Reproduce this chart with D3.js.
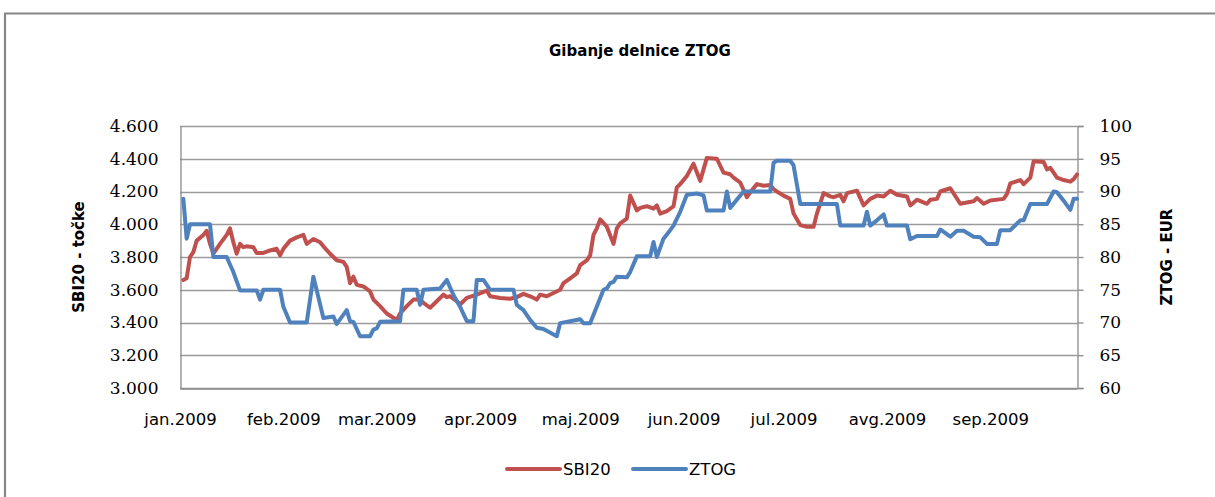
<!DOCTYPE html>
<html>
<head>
<meta charset="utf-8">
<script src="https://cdn.jsdelivr.net/npm/d3@7"></script>
<style>
  body { margin: 0; background: #fff; }
  svg { display: block; }
</style>
</head>
<body>
<div id="chart"></div>
<script>
// SBI20 index (left axis, points)
let sbiDates = ["2009-01-02","2009-01-03","2009-01-04","2009-01-05","2009-01-06","2009-01-08","2009-01-09","2009-01-10","2009-01-11","2009-01-13",
  "2009-01-15","2009-01-16","2009-01-17","2009-01-18","2009-01-19","2009-01-20","2009-01-21","2009-01-23","2009-01-24","2009-01-26",
  "2009-01-28","2009-01-30","2009-01-31","2009-02-01","2009-02-03","2009-02-05","2009-02-07","2009-02-08","2009-02-10","2009-02-12",
  "2009-02-13","2009-02-15","2009-02-16","2009-02-17","2009-02-19","2009-02-20","2009-02-21","2009-02-22","2009-02-23","2009-02-25",
  "2009-02-27","2009-02-28","2009-03-02","2009-03-04","2009-03-07","2009-03-08","2009-03-10","2009-03-12","2009-03-14","2009-03-15",
  "2009-03-17","2009-03-19","2009-03-21","2009-03-22","2009-03-23","2009-03-25","2009-03-26","2009-03-28","2009-03-31","2009-04-03",
  "2009-04-04","2009-04-07","2009-04-10","2009-04-12","2009-04-14","2009-04-16","2009-04-18","2009-04-19","2009-04-21","2009-04-23",
  "2009-04-25","2009-04-26","2009-04-28","2009-04-30","2009-05-01","2009-05-03","2009-05-04","2009-05-05","2009-05-06","2009-05-07",
  "2009-05-09","2009-05-11","2009-05-12","2009-05-13","2009-05-15","2009-05-16","2009-05-18","2009-05-19","2009-05-21","2009-05-23",
  "2009-05-24","2009-05-25","2009-05-27","2009-05-29","2009-05-30","2009-05-31","2009-06-02","2009-06-04","2009-06-06","2009-06-08",
  "2009-06-11","2009-06-13","2009-06-15","2009-06-16","2009-06-18","2009-06-20","2009-06-21","2009-06-23","2009-06-25","2009-06-27",
  "2009-06-28","2009-06-29","2009-07-01","2009-07-03","2009-07-04","2009-07-06","2009-07-08","2009-07-10","2009-07-11","2009-07-13",
  "2009-07-15","2009-07-16","2009-07-18","2009-07-19","2009-07-20","2009-07-23","2009-07-25","2009-07-27","2009-07-29","2009-07-31",
  "2009-08-02","2009-08-04","2009-08-07","2009-08-08","2009-08-10","2009-08-13","2009-08-14","2009-08-16","2009-08-17","2009-08-20",
  "2009-08-23","2009-08-27","2009-08-28","2009-08-30","2009-09-01","2009-09-05","2009-09-06","2009-09-07","2009-09-10","2009-09-11",
  "2009-09-13","2009-09-14","2009-09-17","2009-09-18","2009-09-19","2009-09-21","2009-09-23","2009-09-25","2009-09-26","2009-09-27"];
let sbiValues = [3660,3670,3800,3830,3900,3935,3960,3880,3820,3880,
  3935,3975,3890,3820,3880,3860,3865,3860,3825,3825,
  3840,3850,3810,3850,3900,3920,3935,3880,3910,3890,
  3865,3820,3800,3780,3770,3740,3640,3680,3630,3620,
  3590,3540,3500,3455,3415,3455,3500,3540,3540,3520,
  3490,3530,3570,3555,3560,3530,3510,3550,3570,3595,
  3560,3550,3545,3555,3575,3560,3540,3570,3560,3580,
  3600,3640,3670,3700,3750,3780,3810,3935,3975,4030,
  3985,3880,3975,4005,4035,4175,4085,4100,4110,4095,
  4115,4065,4080,4110,4225,4245,4295,4370,4265,4405,
  4400,4315,4305,4285,4255,4165,4195,4245,4235,4240,
  4215,4200,4175,4155,4065,3995,3985,3985,4065,4190,
  4170,4165,4180,4140,4190,4205,4115,4155,4175,4170,
  4205,4180,4170,4115,4150,4125,4150,4155,4200,4220,
  4125,4140,4160,4125,4145,4155,4185,4250,4270,4245,
  4285,4385,4380,4335,4345,4285,4270,4260,4275,4305];

// ZTOG share price (right axis, EUR)
let ztogDates = ["2009-01-02","2009-01-03","2009-01-04","2009-01-10","2009-01-11","2009-01-15","2009-01-17","2009-01-19","2009-01-24","2009-01-25",
  "2009-01-26","2009-01-31","2009-02-01","2009-02-03","2009-02-08","2009-02-10","2009-02-13","2009-02-16","2009-02-17","2009-02-20",
  "2009-02-21","2009-02-22","2009-02-24","2009-02-27","2009-02-28","2009-03-01","2009-03-02","2009-03-08","2009-03-09","2009-03-13",
  "2009-03-14","2009-03-15","2009-03-20","2009-03-22","2009-03-24","2009-03-26","2009-03-28","2009-03-30","2009-03-31","2009-04-02",
  "2009-04-04","2009-04-11","2009-04-12","2009-04-14","2009-04-16","2009-04-18","2009-04-20","2009-04-24","2009-04-25","2009-04-28",
  "2009-05-01","2009-05-02","2009-05-04","2009-05-08","2009-05-09","2009-05-10","2009-05-11","2009-05-12","2009-05-15","2009-05-16",
  "2009-05-18","2009-05-22","2009-05-23","2009-05-24","2009-05-26","2009-05-28","2009-05-29","2009-05-31","2009-06-02","2009-06-05",
  "2009-06-07","2009-06-08","2009-06-13","2009-06-14","2009-06-15","2009-06-19","2009-06-27","2009-06-28","2009-06-29","2009-07-03",
  "2009-07-04","2009-07-06","2009-07-17","2009-07-18","2009-07-25","2009-07-26","2009-07-27","2009-07-29","2009-07-31","2009-08-01",
  "2009-08-07","2009-08-08","2009-08-10","2009-08-16","2009-08-17","2009-08-20","2009-08-22","2009-08-24","2009-08-27","2009-08-29",
  "2009-08-31","2009-09-03","2009-09-04","2009-09-07","2009-09-10","2009-09-11","2009-09-13","2009-09-18","2009-09-20","2009-09-21",
  "2009-09-23","2009-09-25","2009-09-26","2009-09-27"];
let ztogValues = [88.9,82.8,85.0,85.0,80.0,80.0,77.7,74.9,74.9,73.5,
  75.0,75.0,72.4,70.0,70.0,77.0,70.7,70.9,69.8,71.9,
  70.2,70.1,67.9,67.9,68.9,69.1,70.1,70.2,75.0,75.0,
  72.7,75.0,75.2,76.5,74.2,72.4,70.2,70.2,76.5,76.5,
  75.0,75.0,72.7,71.9,70.4,69.2,69.0,67.9,69.9,70.2,
  70.5,69.9,69.9,75.0,75.2,76.0,76.2,77.0,76.9,77.7,
  80.1,80.1,82.3,80.0,82.8,84.1,84.8,86.9,89.5,89.7,
  89.4,87.1,87.1,90.0,87.5,90.0,90.0,94.4,94.7,94.7,
  94.0,88.1,88.1,84.8,84.8,86.9,84.8,85.6,86.5,84.8,
  84.8,82.7,83.2,83.2,84.2,83.1,84.0,84.0,83.1,83.0,
  82.0,82.0,84.1,84.1,85.6,85.6,88.1,88.1,90.0,89.9,
  88.6,87.2,88.9,88.9];

let monthLabels = ["jan.2009","feb.2009","mar.2009","apr.2009","maj.2009","jun.2009","jul.2009","avg.2009","sep.2009"];
let leftTicks = [3000,3200,3400,3600,3800,4000,4200,4400,4600];
let rightTicks = [60,65,70,75,80,85,90,95,100];
let seriesNames = ["SBI20","ZTOG"];
let seriesColors = ["#C0504D","#4F81BD"];

function draw_chart() {
    let svgWidth = 1215, svgHeight = 497;
    let plot = {left: 180, right: 1077, top: 126, bottom: 388};

    let svg = d3.select('#chart').append('svg')
        .attr('width', svgWidth)
        .attr('height', svgHeight);

    // outer frame (only top and left edges show in the window)
    svg.append('path')
        .attr('d', `M5,${svgHeight + 5} L5,13.5 L${svgWidth + 5},13.5`)
        .attr('fill', 'none')
        .attr('stroke', '#868686')
        .attr('stroke-width', 2.2);

    let parse = d3.timeParse('%Y-%m-%d');
    let x = d3.scaleTime()
        .domain([new Date(2009, 0, 1), new Date(2009, 8, 27)])
        .range([plot.left, plot.right]);
    let yL = d3.scaleLinear().domain([3000, 4600]).range([plot.bottom, plot.top]);
    let yR = d3.scaleLinear().domain([60, 100]).range([plot.bottom, plot.top]);

    let sl = d3.formatLocale({decimal: ',', thousands: '.', grouping: [3], currency: ['', '']});
    let fmtLeft = sl.format(',');

    // gridlines
    svg.append('g')
        .selectAll('line')
        .data(leftTicks)
        .enter()
        .append('line')
        .attr('x1', plot.left)
        .attr('x2', plot.right)
        .attr('y1', d => Math.round(yL(d)) + 0.5)
        .attr('y2', d => Math.round(yL(d)) + 0.5)
        .attr('stroke', '#9a9a9a')
        .attr('stroke-width', 1.3);

    // left axis
    let axisL = d3.axisLeft(yL).tickValues(leftTicks).tickSize(0).tickPadding(22).tickFormat(fmtLeft);
    let gL = svg.append('g')
        .attr('transform', `translate(${plot.left + 0.5},0)`)
        .call(axisL);
    gL.select('.domain').attr('stroke', '#8a8a8a').attr('stroke-width', 1.3);
    gL.selectAll('text')
        .attr('font-family', 'DejaVu Serif')
        .attr('font-size', '17px')
        .attr('fill', '#000');

    // right axis
    let axisR = d3.axisRight(yR).tickValues(rightTicks).tickSizeOuter(6).tickSizeInner(6).tickPadding(16);
    let gR = svg.append('g')
        .attr('transform', `translate(${plot.right + 0.5},0)`)
        .call(axisR);
    gR.select('.domain').attr('stroke', '#8a8a8a').attr('stroke-width', 1.3);
    gR.selectAll('.tick line').attr('stroke', '#8a8a8a').attr('stroke-width', 1.3);
    gR.selectAll('text')
        .attr('font-family', 'DejaVu Serif')
        .attr('font-size', '17px')
        .attr('fill', '#000');

    // bottom axis
    let monthTicks = d3.range(monthLabels.length).map(i => new Date(2009, i, 1));
    let axisB = d3.axisBottom(x).tickValues(monthTicks).tickSize(0).tickPadding(25)
        .tickFormat((d, i) => monthLabels[i]);
    let gB = svg.append('g')
        .attr('transform', `translate(0,${plot.bottom + 0.5})`)
        .call(axisB);
    gB.select('.domain').attr('stroke', '#8a8a8a').attr('stroke-width', 1.3);
    gB.selectAll('text')
        .attr('font-family', 'DejaVu Sans')
        .attr('font-size', '16.5px')
        .attr('fill', '#000');

    // lines
    let sbi = sbiDates.map((d, i) => ({date: parse(d), v: sbiValues[i]}));
    let ztog = ztogDates.map((d, i) => ({date: parse(d), v: ztogValues[i]}));
    let lineL = d3.line().x(d => x(d.date)).y(d => yL(d.v));
    let lineR = d3.line().x(d => x(d.date)).y(d => yR(d.v));

    svg.append('path')
        .datum(sbi)
        .attr('d', lineL)
        .attr('fill', 'none')
        .attr('stroke', seriesColors[0])
        .attr('stroke-width', 4)
        .attr('stroke-linejoin', 'round')
        .attr('stroke-linecap', 'round');
    svg.append('path')
        .datum(ztog)
        .attr('d', lineR)
        .attr('fill', 'none')
        .attr('stroke', seriesColors[1])
        .attr('stroke-width', 4)
        .attr('stroke-linejoin', 'round')
        .attr('stroke-linecap', 'round');

    // title
    svg.append('text')
        .attr('x', 640)
        .attr('y', 56)
        .attr('text-anchor', 'middle')
        .attr('font-family', 'DejaVu Sans')
        .attr('font-weight', 'bold')
        .attr('font-size', '15px')
        .text('Gibanje delnice ZTOG');

    // axis titles
    svg.append('text')
        .attr('transform', 'translate(84,257) rotate(-90)')
        .attr('text-anchor', 'middle')
        .attr('font-family', 'DejaVu Sans')
        .attr('font-weight', 'bold')
        .attr('font-size', '15px')
        .text('SBI20 - točke');
    svg.append('text')
        .attr('transform', 'translate(1172,257) rotate(-90)')
        .attr('text-anchor', 'middle')
        .attr('font-family', 'DejaVu Sans')
        .attr('font-weight', 'bold')
        .attr('font-size', '15px')
        .text('ZTOG - EUR');

    // legend
    let legendX = [507, 633];
    let lg = svg.append('g')
        .selectAll('g')
        .data(seriesNames)
        .enter()
        .append('g')
        .attr('transform', (d, i) => `translate(${legendX[i]},469)`);
    lg.append('line')
        .attr('x1', 0).attr('x2', 53)
        .attr('y1', 0).attr('y2', 0)
        .attr('stroke', (d, i) => seriesColors[i])
        .attr('stroke-width', 4)
        .attr('stroke-linecap', 'round');
    lg.append('text')
        .attr('x', 56)
        .attr('y', 6)
        .attr('font-family', 'DejaVu Sans')
        .attr('font-size', '16.5px')
        .text(d => d);
}

draw_chart();
</script>
</body>
</html>
